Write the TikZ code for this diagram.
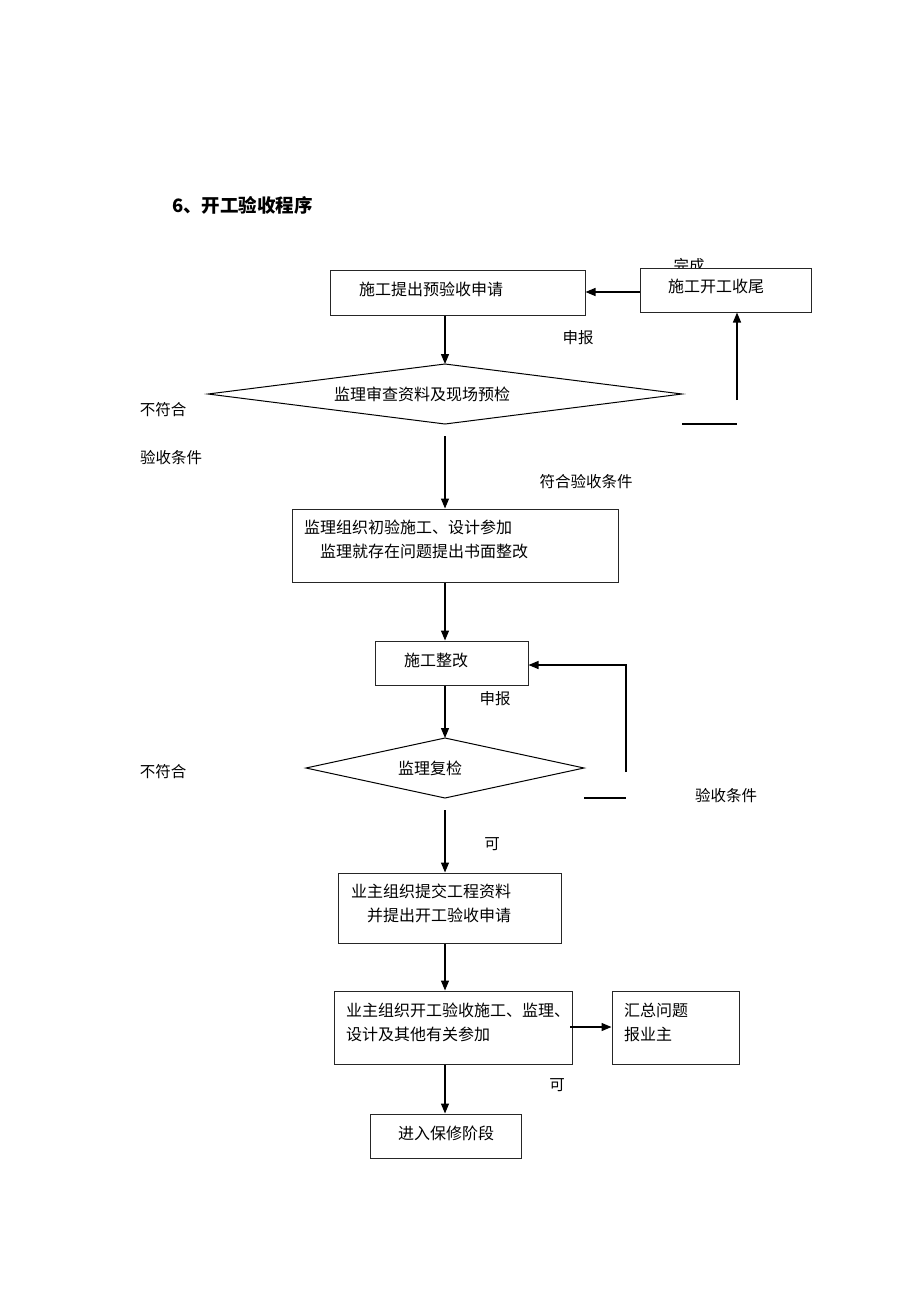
\documentclass[tikz,border=0pt]{standalone}
\usepackage{fontspec}
\setmainfont{Noto Sans CJK SC}
\usetikzlibrary{arrows.meta}
\begin{document}
\begin{tikzpicture}[x=1pt,y=-1pt,
  box/.style={draw=black!85,line width=1pt,fill=white,inner sep=0pt},
  txt/.style={anchor=west,inner sep=0pt,font=\fontsize{16}{18}\selectfont},
  lbl/.style={anchor=center,inner sep=0pt,font=\fontsize{15.5}{18}\selectfont},
  arr/.style={line width=1.3pt,-{Triangle[length=10pt,width=8pt]}},
  ln/.style={line width=1.1pt}]
\useasboundingbox[fill=white] (0,0) rectangle (920,1302);

% title
\node[anchor=west,inner sep=0pt,font=\fontsize{18.5}{20}\bfseries] (title) at (172,205) {6、开工验收程序};

% row 1
\node[lbl] (wancheng) at (689,266) {完成};
\node[box,minimum width=255pt,minimum height=45pt] (b1) at (457.5,292.5) {};
\node[txt] (t1) at (359,289) {施工提出预验收申请};
\node[box,minimum width=171pt,minimum height=44pt] (b2) at (725.5,290) {};
\node[txt] (t2) at (668,286) {施工开工收尾};
\coordinate (b2w) at (b2.west |- 0,292);
\draw[arr] (b2w) -- (b1.east |- b2w);
\node[lbl] (sb1) at (578,338) {申报};

% diamond 1
\coordinate (d1l) at (208,394);
\coordinate (d1r) at (682,394);
\coordinate (d1t) at (445,364);
\coordinate (d1b) at (445,424);
\draw[line width=1pt] (d1l) -- (d1t) -- (d1r) -- (d1b) -- cycle;
\node[lbl,font=\fontsize{16}{18}\selectfont] (dt1) at (422,394) {监理审查资料及现场预检};
\draw[arr] (b1.south -| d1t) -- (d1t);
\coordinate (u1a) at (737,400);
\coordinate (u1b) at (682,424);
\coordinate (u1c) at (737,424);
\draw[arr] (u1a) -- (b2.south -| u1a);
\draw[ln] (u1b) -- (u1c);
\node[lbl] (bfh1) at (163,410) {不符合};
\node[lbl] (ystj1) at (171,458) {验收条件};
\node[lbl] (fhys) at (586,482) {符合验收条件};

% box 3
\node[box,minimum width=326pt,minimum height=73pt] (b3) at (455,545.5) {};
\node[txt] (t3a) at (304,527) {监理组织初验施工、设计参加};
\node[txt] (t3b) at (320,551) {监理就存在问题提出书面整改};
\coordinate (a2s) at (445,436);
\draw[arr] (a2s) -- (b3.north -| a2s);

% box 4
\node[box,minimum width=153pt,minimum height=44pt] (b4) at (451.5,663) {};
\node[txt] (t4) at (404,660) {施工整改};
\draw[arr] (b3.south -| a2s) -- (b4.north -| a2s);
\node[lbl] (sb2) at (495,699) {申报};

% diamond 2
\coordinate (d2l) at (306,768);
\coordinate (d2r) at (584,768);
\coordinate (d2t) at (445,738);
\coordinate (d2b) at (445,798);
\draw[line width=1pt] (d2l) -- (d2t) -- (d2r) -- (d2b) -- cycle;
\node[lbl,font=\fontsize{16}{18}\selectfont] (dt2) at (430,768) {监理复检};
\draw[arr] (b4.south -| d2t) -- (d2t);
\coordinate (f1) at (626,772);
\coordinate (f2) at (626,665);
\draw[ln,line width=1.2pt,-{Triangle[length=10pt,width=8pt]}] (f1) -- (f2) -- (b4.east |- f2);
\coordinate (g1) at (584,798);
\coordinate (g2) at (626,798);
\draw[ln] (g1) -- (g2);
\node[lbl] (ystj2) at (726,796) {验收条件};
\node[lbl] (bfh2) at (163,772) {不符合};

% box 5
\node[box,minimum width=223pt,minimum height=70pt] (b5) at (449.5,908) {};
\node[txt] (t5a) at (351,891) {业主组织提交工程资料};
\node[txt] (t5b) at (367,915) {并提出开工验收申请};
\coordinate (a5s) at (445,810);
\draw[arr] (a5s) -- (b5.north -| a5s);
\node[lbl] (ke1) at (492,844) {可};

% box 6
\node[box,minimum width=238pt,minimum height=73pt] (b6) at (453,1027.5) {};
\node[txt] (t6a) at (346,1010) {业主组织开工验收施工、监理、};
\node[txt] (t6b) at (346,1034) {设计及其他有关参加};
\draw[arr] (b5.south -| a5s) -- (b6.north -| a5s);

% box 7
\node[box,minimum width=127pt,minimum height=73pt] (b7) at (675.5,1027.5) {};
\node[txt] (t7a) at (624,1010) {汇总问题};
\node[txt] (t7b) at (624,1034) {报业主};
\coordinate (h1) at (570,1027);
\draw[arr] (h1) -- (b7.west |- h1);

% box 8
\node[box,minimum width=151pt,minimum height=44pt] (b8) at (445.5,1136) {};
\node[txt] (t8) at (398,1133) {进入保修阶段};
\draw[arr] (b6.south -| a5s) -- (b8.north -| a5s);
\node[lbl] (ke2) at (557,1085) {可};
\end{tikzpicture}
\end{document}
